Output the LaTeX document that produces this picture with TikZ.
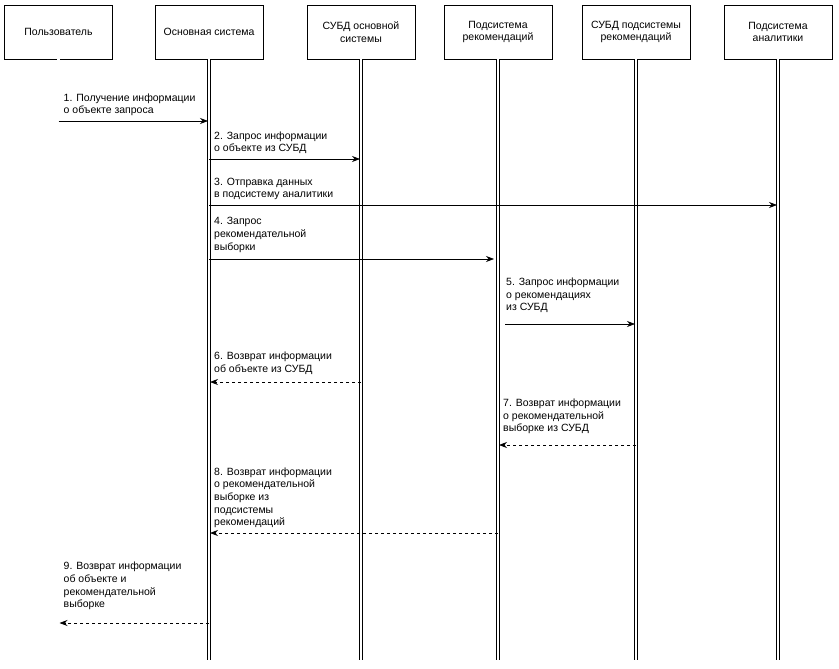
\documentclass[tikz,border=0pt]{standalone}
\usepackage{fontspec}
\setmainfont{Liberation Sans}
\usetikzlibrary{arrows.meta}

\begin{document}
\begin{tikzpicture}[x=1pt, y=-1pt, every node/.style={font=\fontsize{10.5}{12.6}\selectfont},
  actor/.style={draw, line width=0.7pt, minimum width=108pt, minimum height=54pt, align=center, inner sep=2pt},
  life/.style={double, double distance=2.4pt, line width=0.7pt},
  msg/.style={-{Stealth[length=8pt,width=6pt]}, line width=0.7pt, shorten >=1pt},
  reply/.style={msg, dash pattern=on 3pt off 3pt},
  note/.style={anchor=south west, align=left, inner sep=1pt, xshift=4pt, yshift=4pt}]
	\useasboundingbox (0,0) rectangle (839,669);%
	\node[actor] (user) at (58.5,32) {Пользователь};%
	\node[actor] (main) at (209,32) {Основная система};%
	\node[actor] (db) at (361,32) {СУБД основной\\системы};%
	\node[actor] (rec) at (498,32) {Подсистема\\рекомендаций};%
	\node[actor] (recdb) at (636,32) {СУБД подсистемы\\рекомендаций};%
	\node[actor] (an) at (778,32) {Подсистема\\аналитики};%
	\coordinate (bottom) at (0,660);%
	\foreach \a in {user,main,db,rec,recdb,an}
		\draw[life] (\a.south) -- (\a.south |- bottom);%
	\coordinate (m1) at (0,121);%
	\coordinate (m2) at (0,159);%
	\coordinate (m3) at (0,205);%
	\coordinate (m4) at (0,259);%
	\coordinate (m5) at (0,324);%
	\coordinate (m6) at (0,382);%
	\coordinate (m7) at (0,445);%
	\coordinate (m8) at (0,533);%
	\coordinate (m9) at (0,623);%
	\draw[msg] (user |- m1) -- (main |- m1);%
	\node[note] (t1) at (user |- m1) {1. Получение информации\\о объекте запроса};%
	\draw[msg] (main |- m2) -- (db |- m2);%
	\node[note] (t2) at (main |- m2) {2. Запрос информации\\о объекте из СУБД};%
	\draw[msg] (main |- m3) -- (an |- m3);%
	\node[note] (t3) at (main |- m3) {3. Отправка данных\\в подсистему аналитики};%
	\draw[msg, shorten >=4pt] (main |- m4) -- (rec |- m4);%
	\node[note, yshift=1.5pt] (t4) at (main |- m4) {4. Запрос\\рекомендательной\\выборки};%
	\draw[msg, shorten <=7pt] (rec |- m5) -- (recdb |- m5);%
	\node[note, yshift=6pt, xshift=3pt] (t5) at (rec |- m5) {5. Запрос информации\\о рекомендациях\\из СУБД};%
	\draw[reply] (db |- m6) -- (main |- m6);%
	\node[note, yshift=2.5pt] (t6) at (main |- m6) {6. Возврат информации\\об объекте из СУБД};%
	\draw[reply] (recdb |- m7) -- (rec |- m7);%
	\node[note, yshift=6pt] (t7) at (rec |- m7) {7. Возврат информации\\о рекомендательной\\выборке из СУБД};%
	\draw[reply] (rec |- m8) -- (main |- m8);%
	\node[note] (t8) at (main |- m8) {8. Возврат информации\\о рекомендательной\\выборке из\\подсистемы\\рекомендаций};%
	\draw[reply] (main |- m9) -- (user |- m9);%
	\node[note, yshift=8pt] (t9) at (user |- m9) {9. Возврат информации\\об объекте и\\рекомендательной\\выборке};%
\end{tikzpicture}
\end{document}
